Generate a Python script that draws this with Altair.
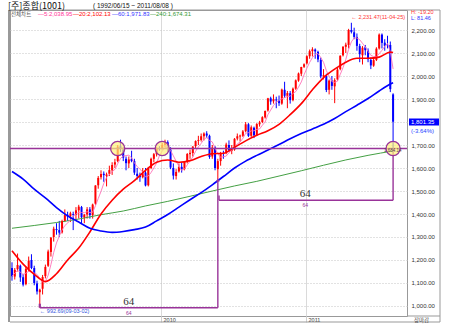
import altair as alt
import pandas as pd

# ---------------- data (weekly KOSPI candles) ----------------
opens = [1165, 1128, 1160, 1175, 1125, 1095, 1160, 1200, 1165, 1098,
         1060, 1075, 1130, 1175, 1235, 1300, 1335, 1330, 1320, 1370,
         1395, 1390, 1400, 1396, 1416, 1430, 1385, 1398, 1420, 1395,
         1445, 1525, 1560, 1575, 1565, 1575, 1590, 1615, 1630, 1695,
         1680, 1640, 1620, 1640, 1630, 1575, 1565, 1560, 1580, 1525,
         1600, 1640, 1660, 1685, 1685, 1700, 1712, 1680, 1600, 1565,
         1585, 1605, 1595, 1628, 1660, 1665, 1695, 1718, 1722, 1738,
         1750, 1740, 1650, 1690, 1595, 1630, 1665, 1665, 1700, 1675,
         1680, 1728, 1737, 1740, 1760, 1790, 1740, 1775, 1742, 1790,
         1800, 1820, 1850, 1903, 1890, 1898, 1894, 1880, 1940, 1914,
         1925, 1895, 1945, 1980, 2010, 2040, 2055, 2086, 2108, 2115,
         2105, 2070, 1998, 2000, 1940, 1980, 1955, 1985, 2030, 2090,
         2127, 2135, 2200, 2190, 2170, 2130, 2090, 2125, 2110, 2070,
         2045, 2070, 2120, 2180, 2145, 2135, 2135, 1920]
highs = [1190, 1165, 1228, 1180, 1140, 1170, 1215, 1225, 1175, 1110,
         1075, 1135, 1180, 1245, 1300, 1345, 1360, 1370, 1375, 1420,
         1410, 1410, 1410, 1430, 1440, 1435, 1400, 1430, 1430, 1445,
         1525, 1565, 1590, 1585, 1580, 1610, 1625, 1640, 1700, 1723,
         1690, 1650, 1650, 1675, 1640, 1600, 1580, 1600, 1600, 1605,
         1645, 1665, 1690, 1695, 1710, 1723, 1720, 1690, 1620, 1595,
         1620, 1625, 1630, 1665, 1680, 1695, 1720, 1740, 1750, 1755,
         1760, 1745, 1700, 1695, 1640, 1670, 1675, 1710, 1720, 1700,
         1730, 1750, 1745, 1765, 1800, 1795, 1785, 1780, 1795, 1805,
         1825, 1850, 1905, 1910, 1920, 1910, 1915, 1945, 1975, 1935,
         1935, 1950, 1985, 2015, 2040, 2055, 2090, 2115, 2125, 2120,
         2110, 2080, 2030, 2010, 1985, 2000, 1990, 2035, 2090, 2130,
         2145, 2205, 2231.47, 2210, 2185, 2140, 2130, 2135, 2120, 2080,
         2080, 2125, 2185, 2185, 2160, 2175, 2150, 1925]
lows = [1110, 1115, 1150, 1105, 1085, 1090, 1150, 1160, 1090, 1050,
        992.69, 1050, 1120, 1170, 1215, 1280, 1310, 1300, 1315, 1365,
        1370, 1365, 1330, 1370, 1380, 1360, 1360, 1380, 1380, 1380,
        1440, 1510, 1550, 1540, 1520, 1565, 1570, 1600, 1625, 1670,
        1630, 1590, 1600, 1625, 1570, 1550, 1540, 1555, 1520, 1520,
        1595, 1625, 1650, 1675, 1680, 1690, 1670, 1595, 1550, 1550,
        1580, 1580, 1590, 1620, 1640, 1650, 1685, 1700, 1715, 1720,
        1730, 1640, 1640, 1590, 1552, 1610, 1640, 1660, 1670, 1660,
        1675, 1720, 1715, 1735, 1755, 1735, 1735, 1730, 1740, 1780,
        1795, 1815, 1845, 1875, 1880, 1860, 1870, 1875, 1905, 1860,
        1880, 1890, 1940, 1975, 2000, 2035, 2050, 2075, 2085, 2075,
        2060, 1990, 1985, 1930, 1920, 1940, 1882, 1980, 2025, 2085,
        2100, 2120, 2185, 2160, 2110, 2060, 2050, 2090, 2060, 2030,
        2040, 2065, 2115, 2120, 2110, 2120, 1930, 1684.68]
closes = [1129, 1157, 1178, 1124, 1093, 1162, 1197, 1165, 1100, 1063,
          1071, 1126, 1170, 1237, 1297, 1336, 1330, 1319, 1369, 1395,
          1389, 1403, 1396, 1416, 1432, 1386, 1397, 1420, 1395, 1441,
          1524, 1557, 1574, 1569, 1572, 1591, 1613, 1625, 1693, 1685,
          1645, 1621, 1637, 1630, 1580, 1565, 1560, 1578, 1524, 1600,
          1640, 1660, 1684, 1682, 1701, 1712, 1684, 1602, 1567, 1583,
          1604, 1594, 1626, 1661, 1666, 1693, 1717, 1722, 1738, 1750,
          1741, 1648, 1689, 1600, 1630, 1664, 1663, 1702, 1676, 1681,
          1727, 1738, 1741, 1759, 1790, 1740, 1777, 1742, 1791, 1798,
          1821, 1848, 1903, 1889, 1899, 1894, 1882, 1941, 1914, 1926,
          1895, 1945, 1981, 2011, 2039, 2051, 2086, 2108, 2116, 2107,
          2072, 1998, 2004, 1939, 1980, 1957, 1982, 2028, 2088, 2127,
          2136, 2200, 2192, 2170, 2131, 2095, 2123, 2112, 2073, 2046,
          2069, 2119, 2180, 2144, 2132, 2133, 1943, 1801.35]

ma_idx = list(range(0, 137, 4)) + [137]
ma20 = [1240, 1182, 1138, 1106, 1140, 1200, 1252, 1322, 1400, 1460,
        1508, 1545, 1590, 1625, 1635, 1625, 1632, 1650, 1662, 1664,
        1690, 1718, 1742, 1762, 1790, 1832, 1880, 1940, 1993, 2030,
        2060, 2077, 2077, 2082, 2104, 2102]
ma60 = [1585, 1552, 1508, 1470, 1428, 1392, 1365, 1338, 1326, 1320,
        1324, 1332, 1343, 1370, 1398, 1430, 1462, 1493, 1527, 1563,
        1600, 1630, 1655, 1678, 1702, 1727, 1750, 1770, 1790, 1815,
        1845, 1873, 1902, 1935, 1965, 1971]
ma240_idx = list(range(0, 129, 8)) + [137]
ma240 = [1338, 1350, 1363, 1378, 1397, 1413, 1435, 1455, 1477, 1500,
         1522, 1542, 1565, 1588, 1612, 1635, 1655, 1674]

support_level = 1684.68
circle_dates = ["2009-09-14", "2010-01-04", "2011-08-08"]
low_date, low_val = "2009-03-02", 992.69
turn_date, turn_low = "2010-05-24", 1548
last_date = "2011-08-08"
high_date, high_val = "2011-04-25", 2231.47
bracket2_level = 1460
count_weeks = "64"
count_label_dates = ["2009-10-12", "2010-12-30"]

# ---------------- chart ----------------
n = len(closes)
dates = pd.date_range("2008-12-22", periods=n, freq="7D").strftime("%Y-%m-%d").tolist()
cdf = pd.DataFrame({"date": dates, "open": opens, "high": highs, "low": lows, "close": closes})
cdf["dir"] = ["up" if c >= o else "down" for o, c in zip(opens, closes)]

ma20_df = pd.DataFrame({"date": [dates[i] for i in ma_idx], "v": ma20})
ma60_df = pd.DataFrame({"date": [dates[i] for i in ma_idx], "v": ma60})
ma240_df = pd.DataFrame({"date": [dates[i] for i in ma240_idx], "v": ma240})

W, H = 397, 306
YMIN, YMAX = 956.5, 2287.0
PURPLE = "#993399"
RED = "#ff0000"
BLUE = "#0000ff"
LAT = "Liberation Sans"
KR = "Noto Sans CJK KR"


def dt(y, m, d):
    return alt.DateTime(year=y, month=m, date=d, utc=True)


xscale = alt.Scale(type="utc", domain=[dt(2008, 12, 17), dt(2011, 9, 12)])
yscale = alt.Scale(domain=[YMIN, YMAX], nice=False, zero=False)

xaxis = alt.Axis(values=[dt(2010, 1, 1), dt(2011, 1, 1)], format="%Y",
                 labelAlign="left", labelBaseline="top", labelPadding=-5,
                 labelOffset=2, labelFontSize=5.5, labelColor="#333",
                 labelFont=LAT, tickSize=6, tickColor="#d0d0d0",
                 grid=True, gridColor="#dadada", domain=False, title=None)
yaxis = alt.Axis(orient="right", values=list(range(1000, 2201, 100)),
                 format=",.2f", labelFontSize=6, labelColor="#333",
                 labelFont=LAT, labelPadding=4, labelAlign="left",
                 ticks=False, domain=False, grid=True, gridColor="#c4c4c4",
                 gridDash=[1, 2], title=None)


def X(field="date:T"):
    return alt.X(field, scale=xscale, axis=xaxis)


def Y(field):
    return alt.Y(field, scale=yscale, axis=yaxis)


color_enc = alt.Color("dir:N", scale=alt.Scale(domain=["up", "down"], range=[RED, BLUE]), legend=None)

layers = []

# wicks
layers.append(alt.Chart(cdf).mark_rule(strokeWidth=1).encode(
    x=X(), y=Y("low:Q"), y2="high:Q", color=color_enc))

# 240 MA
layers.append(alt.Chart(ma240_df).mark_line(color="#44a044", strokeWidth=1, interpolate="monotone").encode(
    x=X(), y=Y("v:Q")))

# bodies
layers.append(alt.Chart(cdf).mark_rule(strokeWidth=2).encode(
    x=X(), y=Y("open:Q"), y2="close:Q", color=color_enc))

# 5 MA
layers.append(alt.Chart(cdf).transform_window(
    ma5="mean(close)", frame=[-4, 0], sort=[alt.SortField("date")]
).mark_line(color="#ff70b8", strokeWidth=0.9).encode(x=X(), y=Y("ma5:Q")))

# 20 MA / 60 MA
layers.append(alt.Chart(ma20_df).mark_line(color=RED, strokeWidth=1.6, interpolate="monotone").encode(
    x=X(), y=Y("v:Q")))
layers.append(alt.Chart(ma60_df).mark_line(color=BLUE, strokeWidth=1.6, interpolate="monotone").encode(
    x=X(), y=Y("v:Q")))

# support line
sup_df = pd.DataFrame({"date": ["2008-12-17"], "date2": ["2011-09-12"], "v": [support_level]})
layers.append(alt.Chart(sup_df).mark_rule(color=PURPLE, strokeWidth=1.6).encode(
    x=X(), x2="date2:T", y=Y("v:Q")))

# brackets
seg_df = pd.DataFrame({
    "date": [low_date, low_date, turn_date, "2010-05-27", "2010-05-27", last_date],
    "date2": [low_date, turn_date, turn_date, "2010-05-27", last_date, last_date],
    "v": [low_val, low_val, low_val, bracket2_level, bracket2_level, bracket2_level],
    "v2": [1010, low_val, turn_low, 1480, bracket2_level, support_level],
    "w": [2.2, 1.4, 1.4, 1.4, 1.4, 1.4],
})
layers.append(alt.Chart(seg_df).mark_rule(color=PURPLE).encode(
    x=X(), x2="date2:T", y=Y("v:Q"), y2="v2:Q",
    strokeWidth=alt.StrokeWidth("w:Q", scale=None)))
arrow_df = pd.DataFrame({"date": [turn_date], "v": [turn_low]})
layers.append(alt.Chart(arrow_df).mark_point(shape="triangle-up", filled=True, size=14, color=PURPLE, opacity=1).encode(
    x=X(), y=Y("v:Q")))

# circles
circ_df = pd.DataFrame({"date": circle_dates, "v": [support_level] * 3})
layers.append(alt.Chart(circ_df).mark_point(shape="circle", filled=True, size=200, fill="#fff27a",
                                            fillOpacity=0.7, stroke=PURPLE, strokeWidth=1.3, opacity=1).encode(
    x=X(), y=Y("v:Q")))

# count labels
big_df = pd.DataFrame({"date": count_label_dates, "v": [low_val, bracket2_level], "t": [count_weeks] * 2})
layers.append(alt.Chart(big_df).mark_text(font="Liberation Serif", fontSize=11, color="#333333",
                                          baseline="alphabetic", dy=-3).encode(
    x=X(), y=Y("v:Q"), text="t:N"))
layers.append(alt.Chart(big_df).mark_text(font=LAT, fontSize=5, color=PURPLE, baseline="top", dy=3).encode(
    x=X(), y=Y("v:Q"), text="t:N"))

# low / high annotations
lo_df = pd.DataFrame({"date": [low_date], "v": [low_val], "t": ["← 992.69(09-03-02)"]})
layers.append(alt.Chart(lo_df).mark_text(font=LAT, fontSize=5.5, color="#3355dd", align="left",
                                         baseline="top", dy=1).encode(x=X(), y=Y("v:Q"), text="t:N"))
hi_df = pd.DataFrame({"date": [high_date], "v": [high_val], "t": ["← 2,231.47(11-04-25)"]})
layers.append(alt.Chart(hi_df).mark_text(font=LAT, fontSize=5.5, color="#ff3333", align="left",
                                         baseline="middle", dy=-6).encode(x=X(), y=Y("v:Q"), text="t:N"))
cl_df = pd.DataFrame({"date": [last_date], "v": [support_level], "t": ["1,684.14"]})
layers.append(alt.Chart(cl_df).mark_text(font=LAT, fontSize=4.5, color="#553355", align="left",
                                         baseline="middle", dx=-9, dy=2).encode(x=X(), y=Y("v:Q"), text="t:N"))

# ---------- frame and static texts ----------
one = pd.DataFrame({"k": [0]})


def rule(x, x2, y, y2, color="#999999", w=1):
    return alt.Chart(one).mark_rule(color=color, strokeWidth=w).encode(
        x=alt.value(x), x2=alt.value(x2), y=alt.value(y), y2=alt.value(y2))


def txt(x, y, s, color="#333333", size=6, font=LAT, align="left", baseline="middle"):
    return alt.Chart(one).mark_text(text=s, color=color, fontSize=size, font=font,
                                    align=align, baseline=baseline).encode(x=alt.value(x), y=alt.value(y))


layers += [
    rule(0, 430, 0, 0),
    rule(0, 430, 312, 312),
    rule(430, 430, 0, 312),
    rule(-1, -1, 0, 312, w=2),
    rule(397, 430, 306, 306),
]

layers.append(alt.Chart(one).mark_rect(color=BLUE).encode(
    x=alt.value(399), x2=alt.value(429), y=alt.value(108.5), y2=alt.value(115.5)))

layers += [
    txt(-2, -4.5, "[주]종합(1001)", color="#111111", size=9, font=KR),
    txt(83, -4.5, "( 1992/06/15 ~ 2011/08/08 )", color="#111111", size=6.5),
    txt(1, 4, "전체차트", color="#555555", size=5.5, font=KR),
    txt(28, 4, "—5:2,038.95", color="#ff3399", size=6),
    txt(63, 4, "—20:2,102.13", color=RED, size=6),
    txt(102, 4, "—60:1,971.83", color="#3333ff", size=6),
    txt(140, 4, "—240:1,674.31", color="#339933", size=6),
    txt(401, 1.5, "H: -19.20", color="#ff3333", size=5.5),
    txt(401, 7.5, "L: 81.46", color="#3333ff", size=5.5),
    txt(401, 112, "1,801.35", color="#ffffff", size=6),
    txt(401, 121, "(-3.64%)", color="#2244ff", size=6),
    txt(404, 309.5, "장마감", color="#444444", size=5.5, font=KR),
]

chart = alt.layer(*layers).properties(
    width=W, height=H,
    padding={"left": 10, "top": 10, "right": 43, "bottom": 18},
    autosize=alt.AutoSizeParams(type="none"),
    background="white",
).configure_view(stroke="#999999", strokeWidth=1)

chart.save("out.html", embed_options={"renderer": "svg", "actions": False})
